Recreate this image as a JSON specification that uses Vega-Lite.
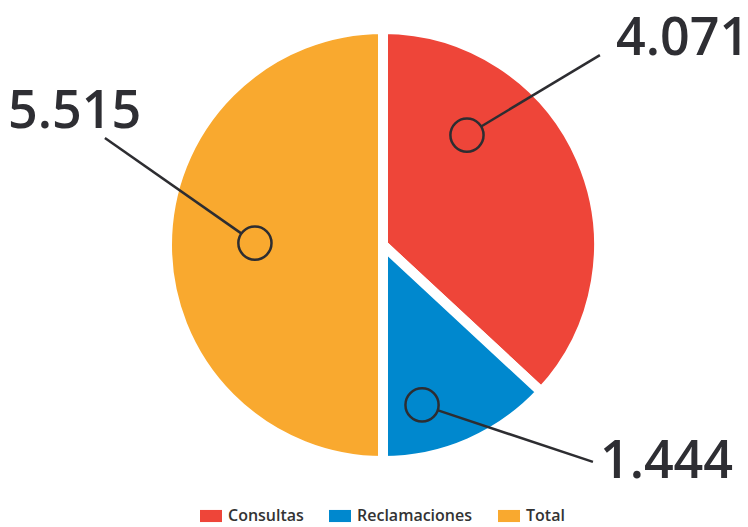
{
  "$schema": "https://vega.github.io/schema/vega-lite/v6.json",
  "width": 730,
  "height": 490,
  "autosize": {"type": "none"},
  "padding": {"left": 18, "top": 0, "right": 0, "bottom": 37},
  "background": "white",
  "view": {"stroke": null},
  "config": {
    "font": "Open Sans",
    "legend": {
      "labelFont": "Open Sans",
      "labelFontSize": 16,
      "labelFontWeight": 600,
      "labelColor": "#333333",
      "symbolType": "M-1,-0.55H1V0.55H-1Z",
      "symbolSize": 484,
      "symbolStrokeWidth": 0,
      "columnPadding": 25,
      "labelOffset": 6,
      "padding": 0
    }
  },
  "layer": [
    {
      "data": {
        "values": [
          {"categoria": "Consultas", "valor": 4071, "orden": 1},
          {"categoria": "Reclamaciones", "valor": 1444, "orden": 2},
          {"categoria": "Total", "valor": 5515, "orden": 3}
        ]
      },
      "mark": {"type": "arc", "radius": 216, "stroke": "white", "strokeWidth": 10},
      "encoding": {
        "theta": {"field": "valor", "type": "quantitative", "stack": true},
        "order": {"field": "orden", "type": "quantitative"},
        "color": {
          "field": "categoria",
          "type": "nominal",
          "scale": {
            "domain": ["Consultas", "Reclamaciones", "Total"],
            "range": ["#ee4539", "#0088ce", "#f9a92f"]
          },
          "legend": {
            "title": null,
            "orient": "none",
            "direction": "horizontal",
            "legendX": 182,
            "legendY": 505
          }
        }
      }
    },
    {
      "data": {
        "values": [
          {"categoria": "Consultas", "x1": 0.467, "y1": 0.563, "x2": 1.028, "y2": 0.9},
          {"categoria": "Total", "x1": -0.672, "y1": 0.055, "x2": -1.318, "y2": 0.507},
          {"categoria": "Reclamaciones", "x1": 0.261, "y1": -0.784, "x2": 0.995, "y2": -1.028}
        ]
      },
      "mark": {"type": "rule", "color": "#2d2d31", "strokeWidth": 2.5},
      "encoding": {
        "x": {"field": "x1", "type": "quantitative", "scale": {"domain": [-1.7299, 1.7299], "nice": false, "zero": false}, "axis": null},
        "y": {"field": "y1", "type": "quantitative", "scale": {"domain": [-1.1611, 1.1611], "nice": false, "zero": false}, "axis": null},
        "x2": {"field": "x2"},
        "y2": {"field": "y2"}
      }
    },
    {
      "data": {
        "values": [
          {"categoria": "Consultas", "cx": 0.398, "cy": 0.521},
          {"categoria": "Total", "cx": -0.607, "cy": 0.009},
          {"categoria": "Reclamaciones", "cx": 0.185, "cy": -0.758}
        ]
      },
      "mark": {"type": "point", "shape": "circle", "filled": false, "size": 1100, "stroke": "#2d2d31", "strokeWidth": 2.5, "opacity": 1},
      "encoding": {
        "x": {"field": "cx", "type": "quantitative", "scale": {"domain": [-1.7299, 1.7299], "nice": false, "zero": false}, "axis": null},
        "y": {"field": "cy", "type": "quantitative", "scale": {"domain": [-1.1611, 1.1611], "nice": false, "zero": false}, "axis": null}
      }
    },
    {
      "data": {
        "values": [
          {"etiqueta": "4.071", "tx": 1.104, "ty": 0.9},
          {"etiqueta": "5.515", "tx": -1.777, "ty": 0.555},
          {"etiqueta": "1.444", "tx": 1.028, "ty": -1.104}
        ]
      },
      "mark": {"type": "text", "align": "left", "baseline": "alphabetic", "font": "Open Sans", "fontSize": 52, "fontWeight": 600, "color": "#2e2e33"},
      "encoding": {
        "x": {"field": "tx", "type": "quantitative", "scale": {"domain": [-1.7299, 1.7299], "nice": false, "zero": false}, "axis": null},
        "y": {"field": "ty", "type": "quantitative", "scale": {"domain": [-1.1611, 1.1611], "nice": false, "zero": false}, "axis": null},
        "text": {"field": "etiqueta", "type": "nominal"}
      }
    }
  ]
}
